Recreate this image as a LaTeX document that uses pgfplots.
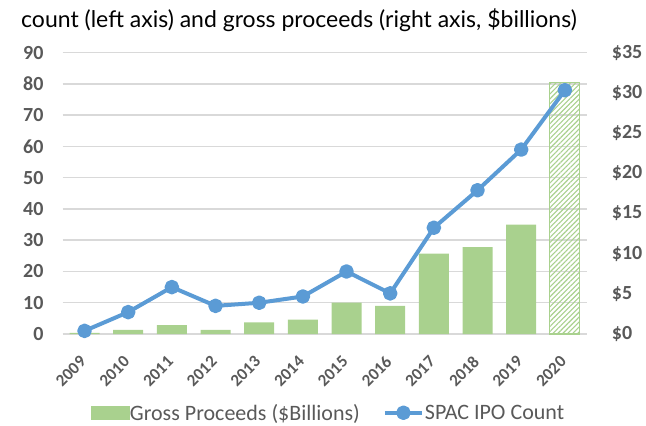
\documentclass[border=0pt]{standalone}
\usepackage{pgfplots}
\pgfplotsset{compat=1.18}
\usepackage{fontspec}
\setmainfont{Carlito}
\newfontfamily\titlefont{Lato}
\usetikzlibrary{patterns.meta}
\definecolor{barg}{HTML}{A9D18E}
\definecolor{lineb}{HTML}{5B9BD5}
\definecolor{gridc}{HTML}{D9D9D9}
\definecolor{tickc}{HTML}{595959}
\pgfplotsset{
  base/.style={
    scale only axis, width=524pt, height=281.3pt,
    at={(0pt,0pt)}, anchor=south west,
    xmin=-0.5, xmax=11.5,
    major tick length=0pt,
    axis line style={draw=none},
    clip=false,
  },
}
\begin{document}
\begin{tikzpicture}[x=1pt,y=1pt]
% grid + left axis labels
\begin{axis}[base, ymin=0, ymax=90,
  ytick={0,10,...,90},
  yticklabels={0,10,20,30,40,50,60,70,80,90},
  axis y line*=left, axis x line=none,
  ymajorgrids, grid style={gridc, line width=1.5pt},
  yticklabel style={font=\fontsize{20}{20}\selectfont\bfseries, text=tickc, anchor=east, inner sep=0pt, xshift=-19pt},
]
\addplot[draw=none] coordinates {(0,0)};
\end{axis}
% bars, right axis
\begin{axis}[base, ymin=0, ymax=35,
  ytick={0,5,...,35},
  yticklabels={\$0,\$5,\$10,\$15,\$20,\$25,\$30,\$35},
  axis y line*=right, axis x line=none,
  ybar, bar width=30pt, bar shift=0pt,
  yticklabel style={font=\fontsize{20}{20}\selectfont\bfseries, text=tickc, anchor=west, inner sep=0pt, xshift=25pt},
]
\addplot[fill=barg, draw=none] coordinates {
(0,0.15) (1,0.5) (2,1.1) (3,0.5) (4,1.45) (5,1.8) (6,3.9) (7,3.5) (8,10.0) (9,10.8) (10,13.6)};
\addplot[pattern={Lines[angle=45,distance=3.5pt,line width=1.1pt]}, pattern color=barg, draw=barg, line width=1.2pt] coordinates {(11,31.3)};
\end{axis}
% line, legend, x labels
\begin{axis}[base, ymin=0, ymax=90,
  ytick=\empty,
  xtick={-0.41,0.59,1.59,2.59,3.59,4.59,5.59,6.59,7.59,8.59,9.59,10.59},
  xticklabels={2009,2010,2011,2012,2013,2014,2015,2016,2017,2018,2019,2020},
  x tick label style={rotate=45, anchor=north, font=\fontsize{17}{17}\selectfont\bfseries, text=tickc, inner sep=0pt},
  xticklabel shift=33pt,
  legend style={at={(0.506,-0.28)}, anchor=center, draw=none, fill=none,
    legend columns=2, font=\fontsize{22}{22}\selectfont, text=tickc,
    nodes={inner sep=1pt},
    /tikz/every even column/.append style={column sep=22pt}},
]
\addlegendimage{legend image code/.code={\fill[barg] (0pt,-6pt) rectangle (38pt,7pt);}}
\addlegendentry{Gross Proceeds (\$Billions)}
\addplot[lineb, line width=4pt, line join=round, mark=*, mark size=5.3pt,
  mark options={fill=lineb, draw=none},
  legend image code/.code={\draw[lineb, line width=4pt] (0pt,0pt) -- (37pt,0pt); \fill[lineb] (18.5pt,0pt) circle (5.3pt);}]
  coordinates {(0,1) (1,7) (2,15) (3,9) (4,10) (5,12) (6,20) (7,13) (8,34) (9,46) (10,59) (11,78)};
\addlegendentry{SPAC IPO Count}
\end{axis}
\node[anchor=base, font=\titlefont\fontsize{23}{23}\selectfont] at (236.3,306) {count (left axis) and gross proceeds (right axis, \$billions)};
\pgfresetboundingbox
\useasboundingbox (-62.7,-92) rectangle (583.3,334);
\end{tikzpicture}
\end{document}
